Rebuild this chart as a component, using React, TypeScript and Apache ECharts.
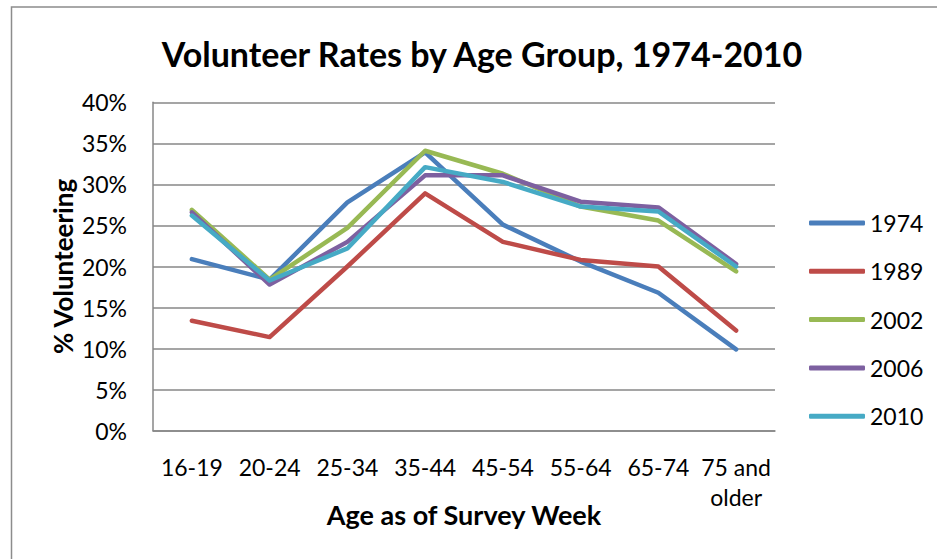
import React, { useEffect, useRef } from "react";
import * as echarts from "echarts";

const categories = ["16-19", "20-24", "25-34", "35-44", "45-54", "55-64", "65-74", "75 and\nolder"];
const seriesNames = ["1974", "1989", "2002", "2006", "2010"];
const values1974 = [20.9, 18.4, 27.8, 33.9, 25.1, 20.6, 16.8, 9.9];
const values1989 = [13.4, 11.4, 20.0, 28.9, 23.0, 20.8, 20.0, 12.2];
const values2002 = [26.9, 18.4, 24.7, 34.1, 31.3, 27.3, 25.6, 19.4];
const values2006 = [26.6, 17.8, 23.0, 31.1, 31.1, 27.9, 27.2, 20.3];
const values2010 = [26.2, 18.3, 22.2, 32.1, 30.3, 27.3, 26.7, 20.0];
const allValues = [values1974, values1989, values2002, values2006, values2010];
const colors = ["#4A7EBB", "#BE4B48", "#98B954", "#7D60A0", "#46AAC5"];

const FONT = "Lato, 'Liberation Sans', sans-serif";

export default function App() {
  const ref = useRef<HTMLDivElement>(null);
  useEffect(() => {
    if (!ref.current) return;
    const chart = echarts.init(ref.current, null, { renderer: "svg" });
    chart.setOption({
      animation: false,
      backgroundColor: "#ffffff",
      textStyle: { fontFamily: FONT },
      graphic: [
        {
          type: "rect",
          shape: { x: 11.5, y: 7, width: 940, height: 560 },
          style: { fill: "none", stroke: "#8c8c8c", lineWidth: 1.5 },
          silent: true,
        },
        {
          type: "text",
          x: 482,
          y: 53,
          style: {
            text: "Volunteer Rates by Age Group, 1974-2010",
            font: `bold 34px ${FONT}`,
            fill: "#000",
            textAlign: "center",
            textVerticalAlign: "middle",
          },
        },
      ],
      grid: { left: 153, right: 162, top: 102.3, bottom: 128.3, containLabel: false },
      legend: {
        orient: "vertical",
        left: 804,
        top: 206,
        itemWidth: 56,
        itemHeight: 5,
        itemGap: 24.3,
        icon: "roundRect",
        data: seriesNames,
        textStyle: { fontFamily: FONT, fontSize: 23, color: "#000", lineHeight: 24 },
      },
      xAxis: {
        type: "category",
        data: categories,
        boundaryGap: true,
        axisLine: { show: true, lineStyle: { color: "#878787", width: 1.5 } },
        axisTick: { show: false },
        axisLabel: { color: "#000", fontSize: 23, fontFamily: FONT, margin: 21, lineHeight: 30, interval: 0 },
        name: "Age as of Survey Week",
        nameLocation: "middle",
        nameGap: 70,
        nameMoveOverlap: false,
        nameTextStyle: { color: "#000", fontSize: 27, fontWeight: "bold", fontFamily: FONT },
      },
      yAxis: {
        type: "value",
        min: 0,
        max: 40,
        interval: 5,
        axisLine: { show: true, lineStyle: { color: "#878787", width: 1.5 } },
        axisTick: { show: false },
        splitLine: { show: true, lineStyle: { color: "#878787", width: 1.5 } },
        axisLabel: { color: "#000", fontSize: 23, fontFamily: FONT, margin: 26, formatter: "{value}%" },
        name: "% Volunteering",
        nameLocation: "middle",
        nameGap: 77,
        nameMoveOverlap: false,
        nameRotate: 90,
        nameTextStyle: { color: "#000", fontSize: 26, fontWeight: "bold", fontFamily: FONT },
      },
      series: seriesNames.map((name, i) => ({
        name,
        type: "line",
        data: allValues[i],
        showSymbol: false,
        symbol: "none",
        lineStyle: { color: colors[i], width: 4.5, cap: "round", join: "round" },
        itemStyle: { color: colors[i] },
      })),
    });
    return () => chart.dispose();
  }, []);
  return <div ref={ref} style={{ position: "fixed", left: 0, top: 0, width: 937, height: 559 }} />;
}
